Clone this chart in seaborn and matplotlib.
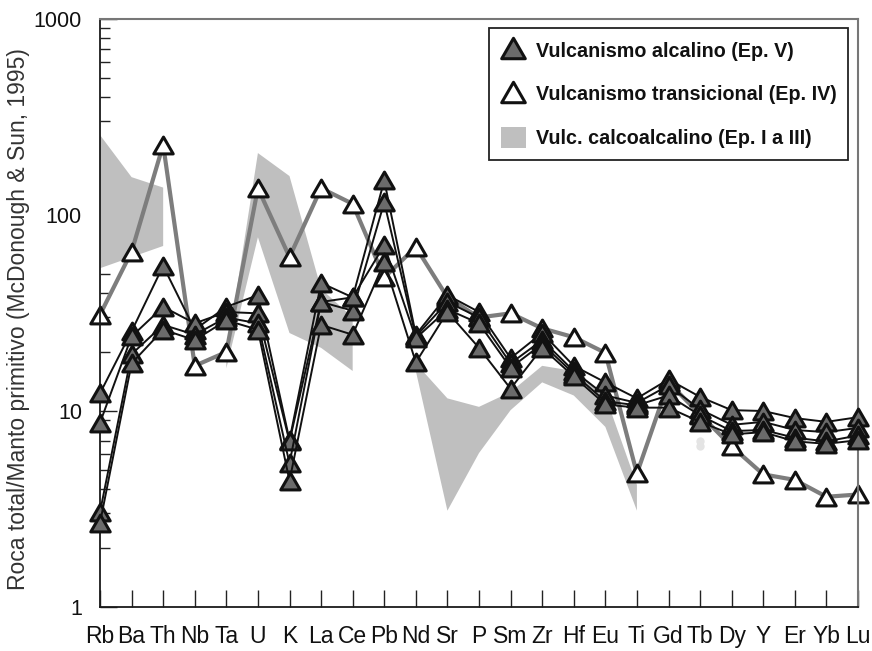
import numpy as np
import pandas as pd
import matplotlib
matplotlib.use("Agg")
import matplotlib.pyplot as plt
from matplotlib.lines import Line2D
from matplotlib.patches import Patch
from matplotlib.path import Path
import seaborn as sns

# Elements in spider-diagram order
elements = ["Rb", "Ba", "Th", "Nb", "Ta", "U", "K", "La", "Ce", "Pb", "Nd", "Sr", "P",
            "Sm", "Zr", "Hf", "Eu", "Ti", "Gd", "Tb", "Dy", "Y", "Er", "Yb", "Lu"]

# Alkaline volcanism (Ep. V), four samples normalised to primitive mantle
alk_a = [12.3, 25.5, 55, 26, 34, 39, 7.1, 45, 38, 150, 24.5, 39, 32, 18.6, 25, 17, 14, 11.6, 14.5, 11.8, 10.1, 10, 9.2, 8.8, 9.3]
alk_b = [8.7, 24, 34, 28, 32, 31.5, 7.0, 36, 32.5, 116, 24, 36, 30, 17.5, 23, 16, 12, 11, 13.5, 10.2, 8.5, 8.8, 8.0, 7.8, 8.2]
alk_c = [3.05, 19.5, 27.5, 24.5, 30, 28, 5.4, 36, 38, 70, 23.5, 33, 28, 16.6, 22, 15.5, 11.2, 10.7, 12, 9.5, 7.9, 8.0, 7.3, 7.0, 7.5]
alk_d = [2.68, 17.5, 26, 23, 29, 26, 4.4, 27.5, 24.5, 57.5, 17.7, 32, 21, 13, 21, 15, 10.8, 10.4, 10.4, 8.8, 7.6, 7.8, 7.0, 6.8, 7.1]

# Transitional volcanism (Ep. IV)
transitional = [31, 65, 228, 17, 20, 137, 61, 137, 114, 48, 68.6, 38, 30, 31.5, 26.4, 23.8, 19.8, 4.8,
                14, 9.6, 6.6, 4.75, 4.45, 3.65, 3.75]

# Calc-alkaline field (Ep. I to III): upper and lower envelope, NaN where absent
nan = np.nan
calc_upper = [256, 156, 138, nan, 19, 207, 158, 42, 30, nan, 17.5, 11.6, 10.5, 12.5, 17, 16, 12, 4.2,
              nan, nan, nan, nan, nan, nan, nan]
calc_lower = [53.5, 61, 69.5, nan, 16.5, 77, 25, 21, 16, nan, 16, 3.1, 6.1, 10.1, 14, 12, 8.3, 3.1,
              nan, nan, nan, nan, nan, nan, nan]

# Faint isolated spot at Tb
tb_spot = [7.0, 6.6]

legend_labels = ["Vulcanismo alcalino (Ep. V)", "Vulcanismo transicional (Ep. IV)",
                 "Vulc. calcoalcalino (Ep. I a III)"]
y_label = "Roca total/Manto primitivo (McDonough & Sun, 1995)"

sns.set_style("ticks")
plt.rcParams["font.family"] = ["Liberation Sans", "DejaVu Sans"]

pos = np.arange(len(elements))
alk_df = pd.DataFrame({
    "pos": np.tile(pos, 4),
    "value": np.concatenate([alk_a, alk_b, alk_c, alk_d]),
    "sample": np.repeat(["A", "B", "C", "D"], len(elements)),
})
trans_df = pd.DataFrame({"pos": pos, "value": transitional})

tri = Path([(0, 0.866), (-1, -0.866), (1, -0.866), (0, 0.866)],
           [Path.MOVETO, Path.LINETO, Path.LINETO, Path.CLOSEPOLY])

fig = plt.figure(figsize=(8.72, 6.51), dpi=100)
ax = fig.add_axes([100 / 872, 1 - 607 / 651, 758 / 872, 588 / 651])

band_color = "#bfbfbf"
ax.fill_between(pos, calc_lower, calc_upper, color=band_color, lw=0, zorder=1)
ax.plot([pos[elements.index("Tb")]] * 2, tb_spot, ls="none", marker="o", ms=6,
        mfc="#e4e4e4", mec="none", zorder=1)

sns.lineplot(data=trans_df, x="pos", y="value", ax=ax, color="#7d7d7d", lw=3.0,
             marker=tri, ms=14, mfc="white", mec="#111111", mew=2.2,
             clip_on=False, zorder=2, legend=False)

sns.lineplot(data=alk_df, x="pos", y="value", units="sample", estimator=None, sort=False,
             ax=ax, color="#111111", lw=1.4, marker=tri, ms=14, mfc="#6b6b6b",
             mec="#111111", mew=2.2, clip_on=False, zorder=3, legend=False)

ax.set_yscale("log")
ax.set_ylim(1, 1000)
ax.set_xlim(0, len(elements) - 1)
ax.set_xticks(pos)
ax.set_xticklabels(elements, fontsize=16.5, color="#111111")
ax.set_yticks([1, 10, 100, 1000])
ax.set_yticklabels(["1", "10", "100", "1000"], fontsize=15.5, color="#111111")
ax.set_xlabel("")
ax.set_ylabel(y_label, fontsize=16.5, color="#333333")
ax.yaxis.set_label_coords(-0.093, 0.49)

ax.tick_params(axis="x", direction="in", length=12, width=1.0, color="#222222", pad=13)
ax.tick_params(axis="y", which="major", direction="in", length=12, width=1.0, color="#222222", pad=13)
ax.tick_params(axis="y", which="minor", direction="in", length=7, width=1.0, color="#222222")

for side in ["left", "bottom"]:
    ax.spines[side].set_color("#1a1a1a")
    ax.spines[side].set_linewidth(1.3)
for side in ["top", "right"]:
    ax.spines[side].set_color("#777777")
    ax.spines[side].set_linewidth(1.5)
    ax.spines[side].set_visible(True)

handles = [
    Line2D([], [], ls="none", marker=tri, ms=17, mfc="#6b6b6b", mec="#111111", mew=2.2),
    Line2D([], [], ls="none", marker=tri, ms=17, mfc="white", mec="#111111", mew=2.2),
    Patch(fc=band_color, ec="none"),
]
leg = ax.legend(handles, legend_labels, loc="upper right", bbox_to_anchor=(0.987, 0.985),
                frameon=True, fancybox=False, framealpha=1, edgecolor="#222222",
                prop={"weight": "bold", "size": 14.2},
                handlelength=1.25, handleheight=1.25, handletextpad=0.5,
                labelspacing=1.15, borderpad=0.6, borderaxespad=0)
leg.get_frame().set_linewidth(1.3)
for t in leg.get_texts():
    t.set_color("#111111")

fig.savefig("out.png", dpi=100)
